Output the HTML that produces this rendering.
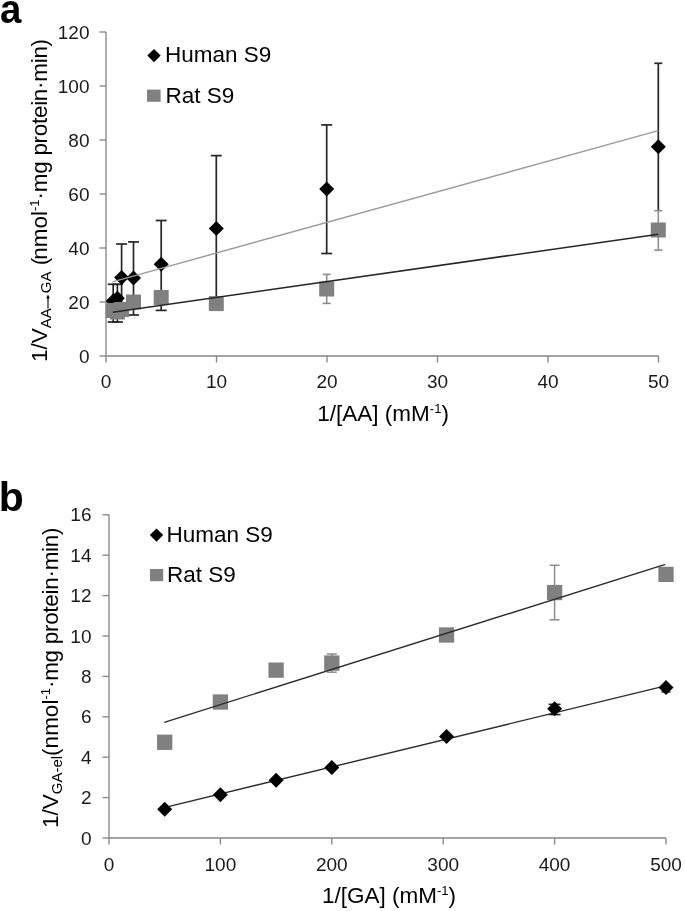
<!DOCTYPE html><html><head><meta charset="utf-8"><style>
html,body{margin:0;padding:0;background:#fff;width:685px;height:911px;overflow:hidden}
svg{display:block;will-change:transform}
text{font-family:"Liberation Sans",sans-serif}
</style></head><body>
<svg width="685" height="911" viewBox="0 0 685 911">
<text x="0" y="23" font-size="40" font-weight="bold" fill="#000" transform="scale(0.96,1)">a</text>
<line x1="106.0" y1="32.0" x2="106.0" y2="356.0" stroke="#868686" stroke-width="1.35"/>
<line x1="106.0" y1="356.0" x2="658.5" y2="356.0" stroke="#868686" stroke-width="1.35"/>
<line x1="99.5" y1="356.00" x2="106.0" y2="356.00" stroke="#868686" stroke-width="1.35"/>
<text x="89.5" y="363.00" font-size="19" text-anchor="end" fill="#1a1a1a">0</text>
<line x1="99.5" y1="302.00" x2="106.0" y2="302.00" stroke="#868686" stroke-width="1.35"/>
<text x="89.5" y="309.00" font-size="19" text-anchor="end" fill="#1a1a1a">20</text>
<line x1="99.5" y1="248.00" x2="106.0" y2="248.00" stroke="#868686" stroke-width="1.35"/>
<text x="89.5" y="255.00" font-size="19" text-anchor="end" fill="#1a1a1a">40</text>
<line x1="99.5" y1="194.00" x2="106.0" y2="194.00" stroke="#868686" stroke-width="1.35"/>
<text x="89.5" y="201.00" font-size="19" text-anchor="end" fill="#1a1a1a">60</text>
<line x1="99.5" y1="140.00" x2="106.0" y2="140.00" stroke="#868686" stroke-width="1.35"/>
<text x="89.5" y="147.00" font-size="19" text-anchor="end" fill="#1a1a1a">80</text>
<line x1="99.5" y1="86.00" x2="106.0" y2="86.00" stroke="#868686" stroke-width="1.35"/>
<text x="89.5" y="93.00" font-size="19" text-anchor="end" fill="#1a1a1a">100</text>
<line x1="99.5" y1="32.00" x2="106.0" y2="32.00" stroke="#868686" stroke-width="1.35"/>
<text x="89.5" y="39.00" font-size="19" text-anchor="end" fill="#1a1a1a">120</text>
<line x1="106.00" y1="356.0" x2="106.00" y2="362.5" stroke="#868686" stroke-width="1.35"/>
<text x="106.00" y="388" font-size="19" text-anchor="middle" fill="#1a1a1a">0</text>
<line x1="216.50" y1="356.0" x2="216.50" y2="362.5" stroke="#868686" stroke-width="1.35"/>
<text x="216.50" y="388" font-size="19" text-anchor="middle" fill="#1a1a1a">10</text>
<line x1="327.00" y1="356.0" x2="327.00" y2="362.5" stroke="#868686" stroke-width="1.35"/>
<text x="327.00" y="388" font-size="19" text-anchor="middle" fill="#1a1a1a">20</text>
<line x1="437.50" y1="356.0" x2="437.50" y2="362.5" stroke="#868686" stroke-width="1.35"/>
<text x="437.50" y="388" font-size="19" text-anchor="middle" fill="#1a1a1a">30</text>
<line x1="548.00" y1="356.0" x2="548.00" y2="362.5" stroke="#868686" stroke-width="1.35"/>
<text x="548.00" y="388" font-size="19" text-anchor="middle" fill="#1a1a1a">40</text>
<line x1="658.50" y1="356.0" x2="658.50" y2="362.5" stroke="#868686" stroke-width="1.35"/>
<text x="658.50" y="388" font-size="19" text-anchor="middle" fill="#1a1a1a">50</text>
<line x1="113.20" y1="284.30" x2="113.20" y2="322.00" stroke="#262626" stroke-width="1.7"/><line x1="107.70" y1="284.30" x2="118.70" y2="284.30" stroke="#262626" stroke-width="1.7"/><line x1="107.70" y1="322.00" x2="118.70" y2="322.00" stroke="#262626" stroke-width="1.7"/>
<line x1="117.40" y1="284.30" x2="117.40" y2="322.00" stroke="#262626" stroke-width="1.7"/><line x1="111.90" y1="284.30" x2="122.90" y2="284.30" stroke="#262626" stroke-width="1.7"/><line x1="111.90" y1="322.00" x2="122.90" y2="322.00" stroke="#262626" stroke-width="1.7"/>
<line x1="121.60" y1="244.00" x2="121.60" y2="315.00" stroke="#262626" stroke-width="1.7"/><line x1="116.10" y1="244.00" x2="127.10" y2="244.00" stroke="#262626" stroke-width="1.7"/><line x1="116.10" y1="315.00" x2="127.10" y2="315.00" stroke="#262626" stroke-width="1.7"/>
<line x1="133.50" y1="241.90" x2="133.50" y2="315.00" stroke="#262626" stroke-width="1.7"/><line x1="128.00" y1="241.90" x2="139.00" y2="241.90" stroke="#262626" stroke-width="1.7"/><line x1="128.00" y1="315.00" x2="139.00" y2="315.00" stroke="#262626" stroke-width="1.7"/>
<line x1="161.20" y1="220.50" x2="161.20" y2="310.40" stroke="#262626" stroke-width="1.7"/><line x1="155.70" y1="220.50" x2="166.70" y2="220.50" stroke="#262626" stroke-width="1.7"/><line x1="155.70" y1="310.40" x2="166.70" y2="310.40" stroke="#262626" stroke-width="1.7"/>
<line x1="216.30" y1="155.60" x2="216.30" y2="305.00" stroke="#262626" stroke-width="1.7"/><line x1="210.80" y1="155.60" x2="221.80" y2="155.60" stroke="#262626" stroke-width="1.7"/><line x1="210.80" y1="305.00" x2="221.80" y2="305.00" stroke="#262626" stroke-width="1.7"/>
<line x1="326.70" y1="124.90" x2="326.70" y2="253.50" stroke="#262626" stroke-width="1.7"/><line x1="321.20" y1="124.90" x2="332.20" y2="124.90" stroke="#262626" stroke-width="1.7"/><line x1="321.20" y1="253.50" x2="332.20" y2="253.50" stroke="#262626" stroke-width="1.7"/>
<line x1="658.30" y1="63.30" x2="658.30" y2="210.70" stroke="#262626" stroke-width="1.7"/><line x1="654.30" y1="63.30" x2="662.30" y2="63.30" stroke="#262626" stroke-width="1.7"/>
<path d="M113.20 293.50L120.70 301.00L113.20 308.50L105.70 301.00Z" fill="#000"/>
<path d="M117.40 290.80L124.90 298.30L117.40 305.80L109.90 298.30Z" fill="#000"/>
<path d="M121.60 270.10L129.10 277.60L121.60 285.10L114.10 277.60Z" fill="#000"/>
<path d="M133.50 270.50L141.00 278.00L133.50 285.50L126.00 278.00Z" fill="#000"/>
<path d="M161.20 256.70L168.70 264.20L161.20 271.70L153.70 264.20Z" fill="#000"/>
<path d="M216.30 220.90L223.80 228.40L216.30 235.90L208.80 228.40Z" fill="#000"/>
<path d="M326.70 181.60L334.20 189.10L326.70 196.60L319.20 189.10Z" fill="#000"/>
<path d="M658.30 139.20L665.80 146.70L658.30 154.20L650.80 146.70Z" fill="#000"/>
<line x1="112.5" y1="281.8" x2="658.3" y2="130.6" stroke="#9a9a9a" stroke-width="1.4"/>
<line x1="113.20" y1="306.00" x2="113.20" y2="314.00" stroke="#8c8c8c" stroke-width="1.6"/><line x1="109.20" y1="306.00" x2="117.20" y2="306.00" stroke="#8c8c8c" stroke-width="1.6"/><line x1="109.20" y1="314.00" x2="117.20" y2="314.00" stroke="#8c8c8c" stroke-width="1.6"/>
<line x1="117.40" y1="306.00" x2="117.40" y2="315.00" stroke="#8c8c8c" stroke-width="1.6"/><line x1="113.40" y1="306.00" x2="121.40" y2="306.00" stroke="#8c8c8c" stroke-width="1.6"/><line x1="113.40" y1="315.00" x2="121.40" y2="315.00" stroke="#8c8c8c" stroke-width="1.6"/>
<line x1="121.60" y1="305.00" x2="121.60" y2="313.00" stroke="#8c8c8c" stroke-width="1.6"/><line x1="117.60" y1="305.00" x2="125.60" y2="305.00" stroke="#8c8c8c" stroke-width="1.6"/><line x1="117.60" y1="313.00" x2="125.60" y2="313.00" stroke="#8c8c8c" stroke-width="1.6"/>
<line x1="133.50" y1="298.00" x2="133.50" y2="306.00" stroke="#8c8c8c" stroke-width="1.6"/><line x1="129.50" y1="298.00" x2="137.50" y2="298.00" stroke="#8c8c8c" stroke-width="1.6"/><line x1="129.50" y1="306.00" x2="137.50" y2="306.00" stroke="#8c8c8c" stroke-width="1.6"/>
<line x1="161.20" y1="293.00" x2="161.20" y2="302.00" stroke="#8c8c8c" stroke-width="1.6"/><line x1="157.20" y1="293.00" x2="165.20" y2="293.00" stroke="#8c8c8c" stroke-width="1.6"/><line x1="157.20" y1="302.00" x2="165.20" y2="302.00" stroke="#8c8c8c" stroke-width="1.6"/>
<line x1="216.30" y1="300.00" x2="216.30" y2="307.00" stroke="#8c8c8c" stroke-width="1.6"/><line x1="212.30" y1="300.00" x2="220.30" y2="300.00" stroke="#8c8c8c" stroke-width="1.6"/><line x1="212.30" y1="307.00" x2="220.30" y2="307.00" stroke="#8c8c8c" stroke-width="1.6"/>
<line x1="326.70" y1="274.40" x2="326.70" y2="303.40" stroke="#8c8c8c" stroke-width="1.6"/><line x1="322.70" y1="274.40" x2="330.70" y2="274.40" stroke="#8c8c8c" stroke-width="1.6"/><line x1="322.70" y1="303.40" x2="330.70" y2="303.40" stroke="#8c8c8c" stroke-width="1.6"/>
<line x1="658.30" y1="210.70" x2="658.30" y2="250.10" stroke="#8c8c8c" stroke-width="1.6"/><line x1="654.30" y1="210.70" x2="662.30" y2="210.70" stroke="#8c8c8c" stroke-width="1.6"/><line x1="654.30" y1="250.10" x2="662.30" y2="250.10" stroke="#8c8c8c" stroke-width="1.6"/>
<rect x="105.70" y="303.00" width="15.00" height="15.00" fill="#808080"/>
<rect x="109.90" y="304.50" width="15.00" height="15.00" fill="#808080"/>
<rect x="114.10" y="302.00" width="15.00" height="15.00" fill="#808080"/>
<rect x="126.00" y="294.50" width="15.00" height="15.00" fill="#808080"/>
<rect x="153.70" y="290.00" width="15.00" height="15.00" fill="#808080"/>
<rect x="208.80" y="296.10" width="15.00" height="15.00" fill="#808080"/>
<rect x="319.20" y="281.50" width="15.00" height="15.00" fill="#808080"/>
<rect x="650.80" y="222.50" width="15.00" height="15.00" fill="#808080"/>
<line x1="112.8" y1="312.2" x2="658.3" y2="234.2" stroke="#262626" stroke-width="1.6"/>
<path d="M154.00 48.90L160.70 55.60L154.00 62.30L147.30 55.60Z" fill="#000"/>
<text x="165" y="62.4" font-size="22.5" fill="#000">Human S9</text>
<rect x="147" y="89.6" width="13.6" height="12.2" fill="#808080"/>
<text x="165.5" y="102.5" font-size="22.5" fill="#000">Rat S9</text>
<text x="317.3" y="420.5" font-size="22.5" fill="#000">1/[AA] (mM<tspan font-size="13" dy="-8">-1</tspan><tspan dy="8">)</tspan></text>
<text transform="translate(47,362) rotate(-90)" font-size="22.5" fill="#000">1/V<tspan font-size="15" dy="4">AA</tspan><tspan font-size="15" dx="15">GA</tspan><tspan dy="-4"> (</tspan><tspan dx="-2">nmol</tspan><tspan font-size="13" dy="-8">-1</tspan><tspan dy="8" letter-spacing="-0.3">·mg protein·min)</tspan></text>
<path d="M48 308.6V296.2" stroke="#000" stroke-width="1.1" fill="none"/><path d="M48 294.6L46.2 298.6L49.8 298.6Z" fill="#000"/>
<text x="-1.2" y="510.6" font-size="41" font-weight="bold" fill="#000">b</text>
<line x1="109.0" y1="514.8" x2="109.0" y2="838.0" stroke="#868686" stroke-width="1.35"/>
<line x1="109.0" y1="838.0" x2="666.0" y2="838.0" stroke="#868686" stroke-width="1.35"/>
<line x1="102.5" y1="838.00" x2="109.0" y2="838.00" stroke="#868686" stroke-width="1.35"/>
<text x="91.5" y="844.50" font-size="19" text-anchor="end" fill="#1a1a1a">0</text>
<line x1="102.5" y1="797.60" x2="109.0" y2="797.60" stroke="#868686" stroke-width="1.35"/>
<text x="91.5" y="804.10" font-size="19" text-anchor="end" fill="#1a1a1a">2</text>
<line x1="102.5" y1="757.20" x2="109.0" y2="757.20" stroke="#868686" stroke-width="1.35"/>
<text x="91.5" y="763.70" font-size="19" text-anchor="end" fill="#1a1a1a">4</text>
<line x1="102.5" y1="716.80" x2="109.0" y2="716.80" stroke="#868686" stroke-width="1.35"/>
<text x="91.5" y="723.30" font-size="19" text-anchor="end" fill="#1a1a1a">6</text>
<line x1="102.5" y1="676.40" x2="109.0" y2="676.40" stroke="#868686" stroke-width="1.35"/>
<text x="91.5" y="682.90" font-size="19" text-anchor="end" fill="#1a1a1a">8</text>
<line x1="102.5" y1="636.00" x2="109.0" y2="636.00" stroke="#868686" stroke-width="1.35"/>
<text x="91.5" y="642.50" font-size="19" text-anchor="end" fill="#1a1a1a">10</text>
<line x1="102.5" y1="595.60" x2="109.0" y2="595.60" stroke="#868686" stroke-width="1.35"/>
<text x="91.5" y="602.10" font-size="19" text-anchor="end" fill="#1a1a1a">12</text>
<line x1="102.5" y1="555.20" x2="109.0" y2="555.20" stroke="#868686" stroke-width="1.35"/>
<text x="91.5" y="561.70" font-size="19" text-anchor="end" fill="#1a1a1a">14</text>
<line x1="102.5" y1="514.80" x2="109.0" y2="514.80" stroke="#868686" stroke-width="1.35"/>
<text x="91.5" y="521.30" font-size="19" text-anchor="end" fill="#1a1a1a">16</text>
<line x1="109.00" y1="838.0" x2="109.00" y2="844.5" stroke="#868686" stroke-width="1.35"/>
<text x="109.00" y="870.8" font-size="19" text-anchor="middle" fill="#1a1a1a">0</text>
<line x1="220.40" y1="838.0" x2="220.40" y2="844.5" stroke="#868686" stroke-width="1.35"/>
<text x="220.40" y="870.8" font-size="19" text-anchor="middle" fill="#1a1a1a">100</text>
<line x1="331.80" y1="838.0" x2="331.80" y2="844.5" stroke="#868686" stroke-width="1.35"/>
<text x="331.80" y="870.8" font-size="19" text-anchor="middle" fill="#1a1a1a">200</text>
<line x1="443.20" y1="838.0" x2="443.20" y2="844.5" stroke="#868686" stroke-width="1.35"/>
<text x="443.20" y="870.8" font-size="19" text-anchor="middle" fill="#1a1a1a">300</text>
<line x1="554.60" y1="838.0" x2="554.60" y2="844.5" stroke="#868686" stroke-width="1.35"/>
<text x="554.60" y="870.8" font-size="19" text-anchor="middle" fill="#1a1a1a">400</text>
<line x1="666.00" y1="838.0" x2="666.00" y2="844.5" stroke="#868686" stroke-width="1.35"/>
<text x="666.00" y="870.8" font-size="19" text-anchor="middle" fill="#1a1a1a">500</text>
<line x1="163.1" y1="807.9" x2="665.5" y2="685.9" stroke="#2a2a2a" stroke-width="1.4"/>
<line x1="554.60" y1="704.30" x2="554.60" y2="714.60" stroke="#262626" stroke-width="1.5"/><line x1="548.60" y1="704.30" x2="560.60" y2="704.30" stroke="#262626" stroke-width="1.5"/><line x1="548.60" y1="714.60" x2="560.60" y2="714.60" stroke="#262626" stroke-width="1.5"/>
<line x1="666.00" y1="687.50" x2="666.00" y2="692.00" stroke="#262626" stroke-width="1.5"/><line x1="661.50" y1="692.00" x2="670.50" y2="692.00" stroke="#262626" stroke-width="1.5"/>
<path d="M164.70 801.82L172.20 809.32L164.70 816.82L157.20 809.32Z" fill="#000"/>
<path d="M220.40 787.27L227.90 794.77L220.40 802.27L212.90 794.77Z" fill="#000"/>
<path d="M276.10 772.73L283.60 780.23L276.10 787.73L268.60 780.23Z" fill="#000"/>
<path d="M331.80 760.00L339.30 767.50L331.80 775.00L324.30 767.50Z" fill="#000"/>
<path d="M446.54 729.10L454.04 736.60L446.54 744.10L439.04 736.60Z" fill="#000"/>
<path d="M554.60 701.22L562.10 708.72L554.60 716.22L547.10 708.72Z" fill="#000"/>
<path d="M666.00 680.01L673.50 687.51L666.00 695.01L658.50 687.51Z" fill="#000"/>
<line x1="331.80" y1="653.98" x2="331.80" y2="672.16" stroke="#8c8c8c" stroke-width="1.5"/><line x1="326.80" y1="653.98" x2="336.80" y2="653.98" stroke="#8c8c8c" stroke-width="1.5"/><line x1="326.80" y1="672.16" x2="336.80" y2="672.16" stroke="#8c8c8c" stroke-width="1.5"/>
<line x1="554.60" y1="565.30" x2="554.60" y2="619.84" stroke="#8c8c8c" stroke-width="1.5"/><line x1="549.60" y1="565.30" x2="559.60" y2="565.30" stroke="#8c8c8c" stroke-width="1.5"/><line x1="549.60" y1="619.84" x2="559.60" y2="619.84" stroke="#8c8c8c" stroke-width="1.5"/>
<rect x="157.05" y="734.60" width="15.30" height="15.30" fill="#808080"/>
<rect x="212.75" y="694.40" width="15.30" height="15.30" fill="#808080"/>
<rect x="268.45" y="662.49" width="15.30" height="15.30" fill="#808080"/>
<rect x="324.15" y="655.42" width="15.30" height="15.30" fill="#808080"/>
<rect x="438.89" y="627.34" width="15.30" height="15.30" fill="#808080"/>
<rect x="546.95" y="584.92" width="15.30" height="15.30" fill="#808080"/>
<rect x="658.35" y="566.74" width="15.30" height="15.30" fill="#808080"/>
<line x1="164.3" y1="722.3" x2="665.3" y2="564.3" stroke="#2a2a2a" stroke-width="1.4"/>
<path d="M156.50 528.40L163.20 535.10L156.50 541.80L149.80 535.10Z" fill="#000"/>
<text x="166.5" y="542" font-size="22.5" fill="#000">Human S9</text>
<rect x="150" y="569" width="13.2" height="12.2" fill="#808080"/>
<text x="167" y="582.2" font-size="22.5" fill="#000">Rat S9</text>
<text x="322" y="903.2" font-size="22.5" fill="#000">1/[GA] (mM<tspan font-size="13" dy="-8">-1</tspan><tspan dy="8">)</tspan></text>
<text transform="translate(58,828) rotate(-90)" font-size="22.5" fill="#000">1/V<tspan font-size="15" dy="4">GA-el</tspan><tspan dy="-4">(nmol</tspan><tspan font-size="13" dy="-8">-1</tspan><tspan dy="8" letter-spacing="-0.3">·mg protein·min)</tspan></text>
</svg></body></html>
